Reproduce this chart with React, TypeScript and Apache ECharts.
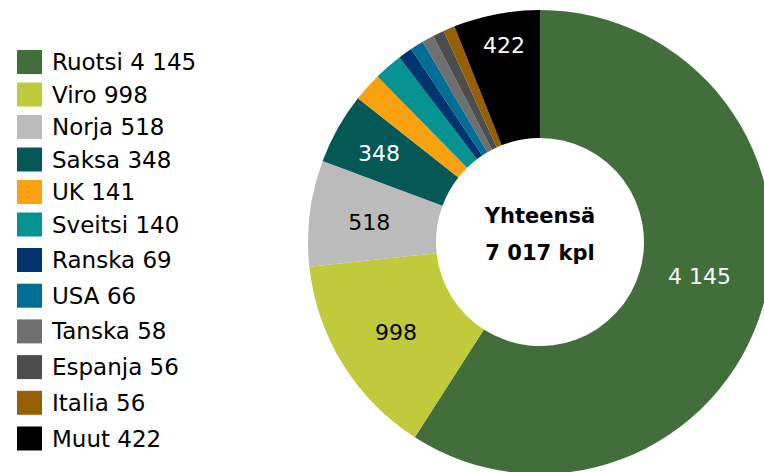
import React, { useEffect, useRef } from "react";
import * as echarts from "echarts";

const countries = ["Ruotsi", "Viro", "Norja", "Saksa", "UK", "Sveitsi", "Ranska", "USA", "Tanska", "Espanja", "Italia", "Muut"];
const values = [4145, 998, 518, 348, 141, 140, 69, 66, 58, 56, 56, 422];
const colors = ["#426E3C", "#C0CA3B", "#BBBBBB", "#045855", "#F9A10E", "#049390", "#023470", "#006F93", "#6F6F6F", "#4D4D4D", "#975F04", "#000000"];
const totalLabel = ["Yhteensä", "7 017 kpl"];

// label styling: which slices show labels, label colour, and small position nudges
const labelStyle: Record<string, { color: string; dx: number; dy: number }> = {
  Ruotsi: { color: "#ffffff", dx: -4.5, dy: -14 },
  Viro: { color: "#000000", dx: 1.5, dy: 1 },
  Norja: { color: "#000000", dx: -1, dy: 2 },
  Saksa: { color: "#ffffff", dx: -12, dy: -5 },
  Muut: { color: "#ffffff", dx: -4, dy: -29 },
};

const fmt = (v: number) => String(v).replace(/\B(?=(\d{3})+(?!\d))/g, " ");

export default function App() {
  const ref = useRef<HTMLDivElement>(null);
  useEffect(() => {
    document.body.style.margin = "0";
    const chart = echarts.init(ref.current!, null, { renderer: "svg" });
    const data = countries.map((name, i) => {
      const ls = labelStyle[name];
      return {
        name,
        value: values[i],
        itemStyle: { color: colors[i] },
        label: ls ? { show: true, color: ls.color } : { show: false },
      };
    });
    const legendBase = {
      orient: "vertical" as const,
      left: 17,
      padding: 0,
      icon: "rect",
      itemWidth: 25,
      itemHeight: 24,
      selectedMode: false,
      formatter: (name: string) => `${name} ${fmt(values[countries.indexOf(name)])}`,
      textStyle: {
        fontFamily: "DejaVu Sans",
        fontSize: 23,
        color: "#000000",
        padding: [0, 0, 0, 5],
      },
    };
    const centerText = (text: string, y: number) => ({
      type: "text",
      style: {
        text,
        x: 540,
        y,
        align: "center",
        verticalAlign: "middle",
        fontFamily: "DejaVu Sans",
        fontWeight: "bold",
        fontSize: 21,
        fill: "#000000",
      },
    });
    chart.setOption({
      animation: false,
      backgroundColor: "#ffffff",
      legend: [
        { ...legendBase, top: 50, itemGap: 8.5, data: countries.slice(0, 6) },
        { ...legendBase, top: 248, itemGap: 11.7, data: countries.slice(6) },
      ],
      graphic: [centerText(totalLabel[0], 216), centerText(totalLabel[1], 253)],
      series: [
        {
          type: "pie",
          center: [540, 242],
          radius: [104, 232],
          startAngle: 90,
          clockwise: true,
          avoidLabelOverlap: false,
          selectedMode: false,
          silent: true,
          label: {
            show: false,
            position: "inside",
            fontFamily: "DejaVu Sans",
            fontSize: 22,
            formatter: (p: any) => fmt(p.value),
          },
          labelLayout: (p: any) => {
            const ls = labelStyle[countries[p.dataIndex]];
            return ls ? { dx: ls.dx, dy: ls.dy } : {};
          },
          labelLine: { show: false },
          itemStyle: { borderWidth: 0 },
          data,
        },
      ],
    });
    return () => chart.dispose();
  }, []);
  return <div ref={ref} style={{ position: "fixed", left: 0, top: 0, width: 764, height: 472 }} />;
}
